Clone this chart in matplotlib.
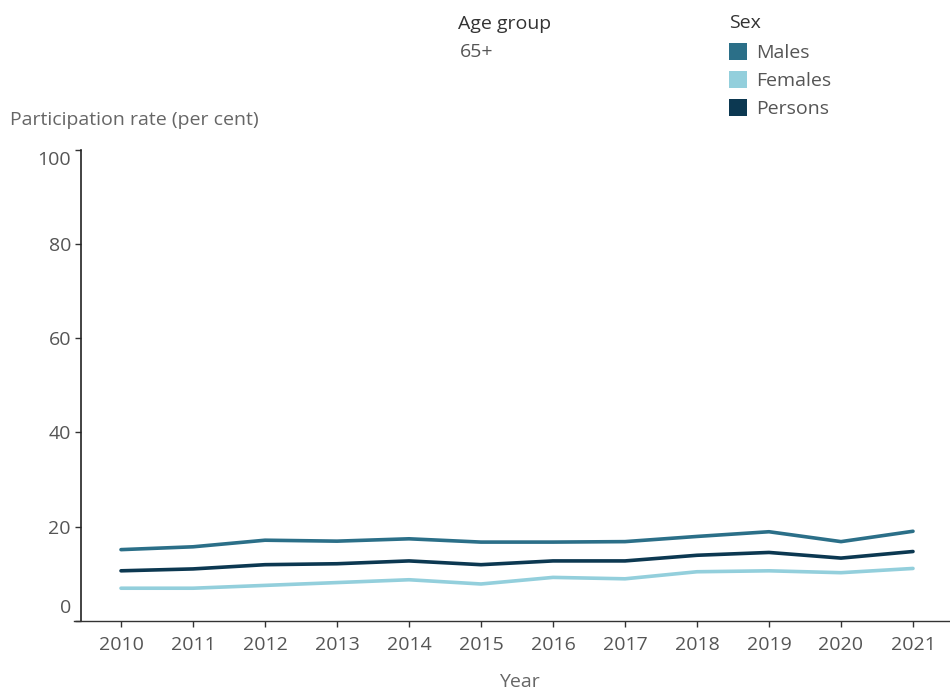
import numpy as np
import matplotlib.pyplot as plt
from matplotlib.patches import Patch
from matplotlib.transforms import ScaledTranslation

plt.rcParams['font.family'] = ['Open Sans', 'DejaVu Sans']

# Datos (tasa de participación, %)
anios = [2010, 2011, 2012, 2013, 2014, 2015, 2016, 2017, 2018, 2019, 2020, 2021]
hombres = [15.1, 15.7, 17.1, 16.9, 17.4, 16.7, 16.7, 16.8, 17.9, 18.9, 16.8, 19.0]
mujeres = [6.9, 6.9, 7.5, 8.1, 8.7, 7.8, 9.2, 8.9, 10.4, 10.6, 10.2, 11.1]
personas = [10.6, 11.0, 11.9, 12.1, 12.7, 11.9, 12.7, 12.7, 13.9, 14.5, 13.3, 14.7]
series = ['Males', 'Females', 'Persons']
colores = ['#2b6f88', '#93cfdc', '#0c3851']
yticks = [0, 20, 40, 60, 80, 100]

fig = plt.figure(figsize=(9.5, 6.9), dpi=100)
ax = fig.add_axes([74 / 950, 69.3 / 690, 876 / 950, 470.7 / 690])

for vals, c in zip([hombres, mujeres, personas], colores):
    ax.plot(anios, vals, color=c, lw=2.6, solid_capstyle='round', solid_joinstyle='round')

ax.set_xlim(2010 - 47 / 72, 2021 + 37 / 72)
ax.set_ylim(0, 100)
ax.set_xticks(anios)
ax.set_yticks(yticks)

for s in ['top', 'right']:
    ax.spines[s].set_visible(False)
ax.spines['left'].set_position(('data', 2010 - 40.3 / 72))
ax.spines['left'].set_color('#222222')
ax.spines['bottom'].set_color('#333333')
ax.spines['left'].set_linewidth(1.2)
ax.spines['bottom'].set_linewidth(1.0)

ax.tick_params(axis='both', length=4, width=1, color='#333333',
               labelcolor='#555555', labelsize=14)
ax.tick_params(axis='x', pad=7)
ax.tick_params(axis='y', pad=3)

# las etiquetas extremas del eje y van desplazadas hacia dentro
etiquetas = ax.get_yticklabels()
etiquetas[0].set_transform(etiquetas[0].get_transform() + ScaledTranslation(0, 15 / 100, fig.dpi_scale_trans))
etiquetas[-1].set_transform(etiquetas[-1].get_transform() + ScaledTranslation(0, -8 / 100, fig.dpi_scale_trans))

fig.text(10 / 950, 1 - 120 / 690, 'Participation rate (per cent)', color='#666666',
         fontsize=14, va='center', ha='left')
fig.text(519 / 950, 1 - 682 / 690, 'Year', color='#666666', fontsize=14,
         va='center', ha='center')

fig.text(458 / 950, 1 - 24 / 690, 'Age group', color='#333333', fontsize=14,
         va='center', ha='left')
fig.text(460 / 950, 1 - 52 / 690, '65+', color='#555555', fontsize=14,
         va='center', ha='left')

handles = [Patch(facecolor=c, edgecolor='none', label=s) for s, c in zip(series, colores)]
leg = fig.legend(handles=handles, title='Sex', loc='upper left',
                 bbox_to_anchor=(729 / 950, 1 - 14 / 690), frameon=False,
                 fontsize=14, title_fontsize=14, alignment='left',
                 handlelength=0.95, handleheight=0.95, handletextpad=0.45,
                 labelspacing=0.45, borderaxespad=0, borderpad=0)
leg._legend_box.sep = 8
leg.get_title().set_color('#333333')
for t in leg.get_texts():
    t.set_color('#555555')

fig.savefig('out.png', dpi=100)
